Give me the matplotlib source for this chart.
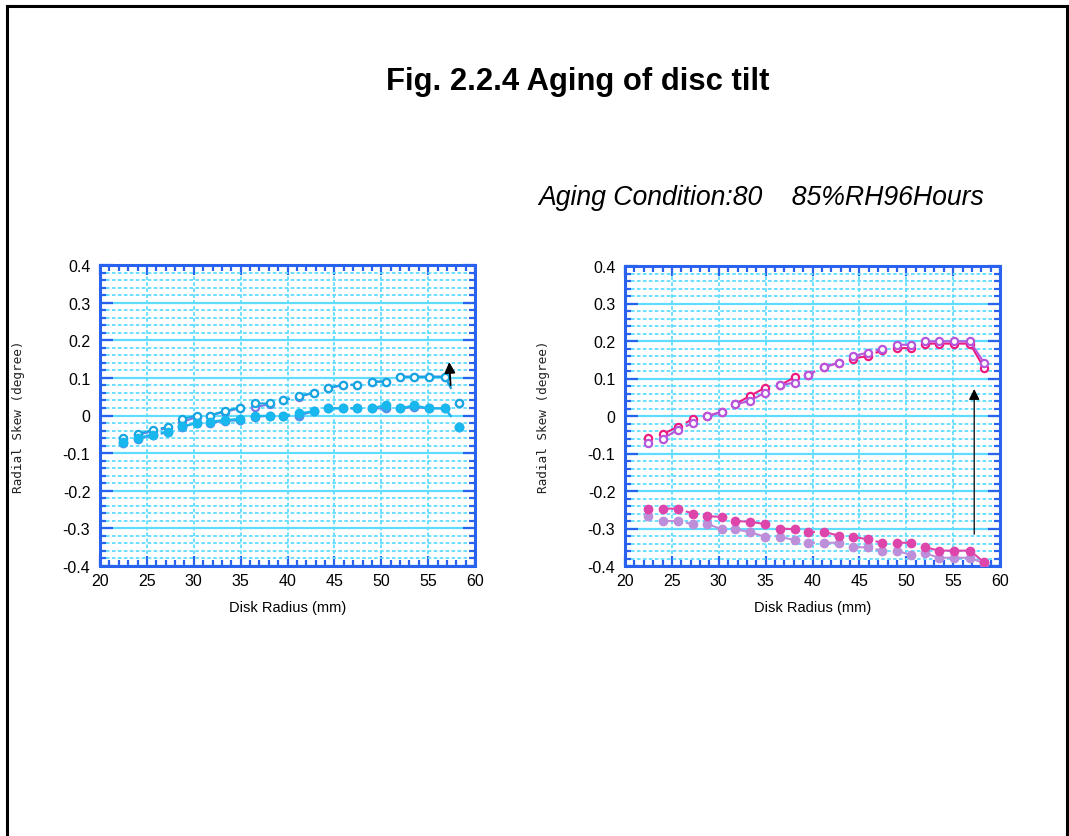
import matplotlib
matplotlib.use("Agg")
import matplotlib.pyplot as plt
from matplotlib.lines import Line2D
from matplotlib.ticker import MultipleLocator, FixedLocator, FixedFormatter
import numpy as np

# ---------------- data ----------------
radius = [22.5, 24.0, 25.6, 27.2, 28.7, 30.3, 31.7, 33.3, 34.9, 36.5, 38.1, 39.5,
          41.2, 42.8, 44.3, 45.9, 47.4, 49.0, 50.5, 52.0, 53.5, 55.1, 56.8, 58.3]

# left panel (cyan)
left_open_a = [-0.059, -0.050, -0.038, -0.031, -0.010, 0.000, 0.000, 0.012, 0.021, 0.032,
               0.032, 0.040, 0.052, 0.060, 0.073, 0.082, 0.082, 0.090, 0.090, 0.103,
               0.103, 0.103, 0.103, 0.032]
left_open_b = [-0.062, -0.053, -0.040, -0.034, -0.018, -0.004, 0.000, 0.010, 0.019, 0.022,
               0.030, 0.040, 0.050, 0.060, 0.073, 0.080, 0.082, 0.090, 0.090, 0.103,
               0.103, 0.103, 0.103, 0.032]
left_fill_a = [-0.071, -0.060, -0.051, -0.043, -0.029, -0.020, -0.016, -0.012, -0.009, -0.001,
               -0.001, -0.001, 0.006, 0.011, 0.019, 0.019, 0.019, 0.019, 0.028, 0.019,
               0.027, 0.019, 0.019, -0.031]
left_fill_b = [-0.074, -0.062, -0.053, -0.045, -0.031, -0.020, -0.020, -0.014, -0.013, -0.003,
               -0.001, -0.001, 0.000, 0.011, 0.019, 0.019, 0.019, 0.019, 0.019, 0.019,
               0.022, 0.019, 0.019, -0.031]

# right panel (magenta)
right_open_a = [-0.058, -0.049, -0.029, -0.009, -0.001, 0.011, 0.031, 0.053, 0.075, 0.082,
                0.103, 0.110, 0.130, 0.142, 0.153, 0.160, 0.175, 0.181, 0.181, 0.193,
                0.193, 0.193, 0.193, 0.128]
right_open_b = [-0.071, -0.060, -0.038, -0.019, -0.001, 0.011, 0.031, 0.040, 0.062, 0.082,
                0.089, 0.110, 0.130, 0.142, 0.160, 0.169, 0.179, 0.190, 0.190, 0.199,
                0.199, 0.199, 0.199, 0.142]
right_fill_a = [-0.247, -0.247, -0.247, -0.260, -0.267, -0.269, -0.280, -0.282, -0.288, -0.300,
                -0.302, -0.309, -0.309, -0.319, -0.322, -0.329, -0.338, -0.338, -0.338, -0.350,
                -0.359, -0.359, -0.359, -0.390]
right_fill_b = [-0.267, -0.280, -0.280, -0.288, -0.287, -0.302, -0.302, -0.309, -0.322, -0.322,
                -0.331, -0.338, -0.338, -0.338, -0.350, -0.350, -0.359, -0.359, -0.371, -0.366,
                -0.378, -0.378, -0.378, -0.393]

ytick_vals = [-0.4, -0.3, -0.2, -0.1, 0.0, 0.1, 0.2, 0.3, 0.4]
ytick_labels = ["-0.4", "-0.3", "-0.2", "-0.1", "0", "0.1", "0.2", "0.3", "0.4"]
xtick_vals = [20, 25, 30, 35, 40, 45, 50, 55, 60]

title = "Fig. 2.2.4 Aging of disc tilt"
subtitle = "Aging Condition:80    85%RH96Hours"
xlabel = "Disk Radius (mm)"
ylabel = "Radial Skew (degree)"

# line-link pattern between consecutive points (style): 1 full, 0 none,
# 's' short stub leaving left point, 'e' short stub arriving at right point
links_left = [0, 1, 'e', 0, 1, 0, 1, 1, 0, 1, 0, 's', 1, 0, 1, 'e', 0, 1, 0, 1, 1, 1, 's']
links_right = [0, 1, 'e', 0, 1, 0, 1, 1, 0, 1, 0, 's', 1, 0, 1, 'e', 0, 1, 0, 1, 1, 1, 1]

# ---------------- styling ----------------
W, H = 1069, 837
fig = plt.figure(figsize=(W / 100, H / 100), dpi=100)
fig.patch.set_facecolor("white")

SANS = ["Liberation Sans", "DejaVu Sans"]
SPINE = "#2a62f0"
GRID = "#5fdcff"


def px_ax(x0, y0, x1, y1):
    return [x0 / W, 1 - y1 / H, (x1 - x0) / W, (y1 - y0) / H]


def draw_series(ax, x, y, links, color, filled, ms, z, lw=1.5):
    xs, ys = [], []
    for i, m in enumerate(links):
        x0, y0, x1, y1 = x[i], y[i], x[i + 1], y[i + 1]
        if m == 1:
            xs += [x0, x1, np.nan]; ys += [y0, y1, np.nan]
        elif m == 's':
            xs += [x0, x0 + 0.45 * (x1 - x0), np.nan]
            ys += [y0, y0 + 0.45 * (y1 - y0), np.nan]
        elif m == 'e':
            xs += [x0 + 0.55 * (x1 - x0), x1, np.nan]
            ys += [y0 + 0.55 * (y1 - y0), y1, np.nan]
    ax.plot(xs, ys, color=color, lw=lw, zorder=z, solid_capstyle="butt")
    if filled:
        ax.plot(x, y, ls="none", marker="o", ms=ms, mfc=color, mec=color, zorder=z + 0.1)
    else:
        ax.plot(x, y, ls="none", marker="o", ms=ms, mfc="white", mec=color, mew=1.6,
                zorder=z + 0.1)


def style_axes(ax):
    ax.set_xlim(20, 60)
    ax.set_ylim(-0.4, 0.4)
    ax.xaxis.set_major_locator(FixedLocator(xtick_vals))
    ax.xaxis.set_minor_locator(MultipleLocator(1))
    ax.yaxis.set_major_locator(FixedLocator(ytick_vals))
    ax.yaxis.set_major_formatter(FixedFormatter(ytick_labels))
    ax.yaxis.set_minor_locator(MultipleLocator(0.02))
    ax.grid(which="major", axis="y", color=GRID, ls="-", lw=1.6, zorder=0)
    ax.grid(which="minor", axis="y", color=GRID, ls=(0, (2.0, 1.3)), lw=1.3, zorder=0)
    ax.grid(which="major", axis="x", color=GRID, ls=(0, (2.0, 1.3)), lw=1.3, zorder=0)
    ax.set_axisbelow(True)
    for s in ax.spines.values():
        s.set_color(SPINE)
        s.set_linewidth(2.2)
    ax.tick_params(which="both", direction="in", top=True, right=True, color=SPINE,
                   width=1.6, labelsize=11.5, labelcolor="black")
    ax.tick_params(which="major", axis="y", length=9, pad=7)
    ax.tick_params(which="major", axis="x", length=7, pad=5)
    ax.tick_params(which="minor", length=4.5)
    for lab in ax.get_xticklabels() + ax.get_yticklabels():
        lab.set_family(SANS)
    ax.set_xlabel(xlabel, fontsize=10.5, family=SANS, labelpad=9)
    ax.set_ylabel(ylabel, fontsize=9.2, family=["DejaVu Sans Mono"], labelpad=27,
                  color="#222222")


axL = fig.add_axes(px_ax(100, 266, 475, 567))
axR = fig.add_axes(px_ax(625, 267, 1000, 567))

# left panel
draw_series(axL, radius, left_open_b, links_left, "#7a78e6", False, 5.2, 3)
draw_series(axL, radius, left_open_a, links_left, "#16a6e2", False, 5.2, 4)
draw_series(axL, radius, left_fill_b, links_left, "#4f93ea", True, 6.0, 3)
draw_series(axL, radius, left_fill_a, links_left, "#18b7ee", True, 6.0, 4)
axL.annotate("", xy=(57.25, 0.142), xytext=(57.4, 0.08),
             arrowprops=dict(arrowstyle="-|>", color="black", lw=1.3, mutation_scale=16,
                             shrinkA=0, shrinkB=0), zorder=6)

# right panel
draw_series(axR, radius, right_open_a, links_right, "#ee1a80", False, 5.2, 3)
draw_series(axR, radius, right_open_b, links_right, "#b755dc", False, 5.2, 4)
draw_series(axR, radius, right_fill_b, links_right, "#bd8ed9", True, 6.0, 3)
draw_series(axR, radius, right_fill_a, links_right, "#dd45ab", True, 6.0, 4)
axR.annotate("", xy=(57.25, 0.072), xytext=(57.25, -0.315),
             arrowprops=dict(arrowstyle="-|>", color="black", lw=0.9, mutation_scale=16,
                             shrinkA=0, shrinkB=0), zorder=6)

for ax in (axL, axR):
    style_axes(ax)

# texts
fig.text(578 / W, 1 - 82 / H, title, ha="center", va="center", fontsize=22.3,
         weight="bold", family=SANS, color="black")
fig.text(538 / W, 1 - 198 / H, subtitle, ha="left", va="center", fontsize=19.2,
         style="italic", family=SANS, color="black")

# page border
bl = dict(color="black", lw=2.2, transform=fig.transFigure)
fig.add_artist(Line2D([6.5 / W, 6.5 / W], [0, 1 - 6.5 / H], **bl))
fig.add_artist(Line2D([6.5 / W, 1066.5 / W], [1 - 6.5 / H, 1 - 6.5 / H], **bl))
fig.add_artist(Line2D([1066.5 / W, 1066.5 / W], [0, 1 - 6.5 / H], **bl))

fig.savefig("out.png", dpi=100, facecolor="white")
